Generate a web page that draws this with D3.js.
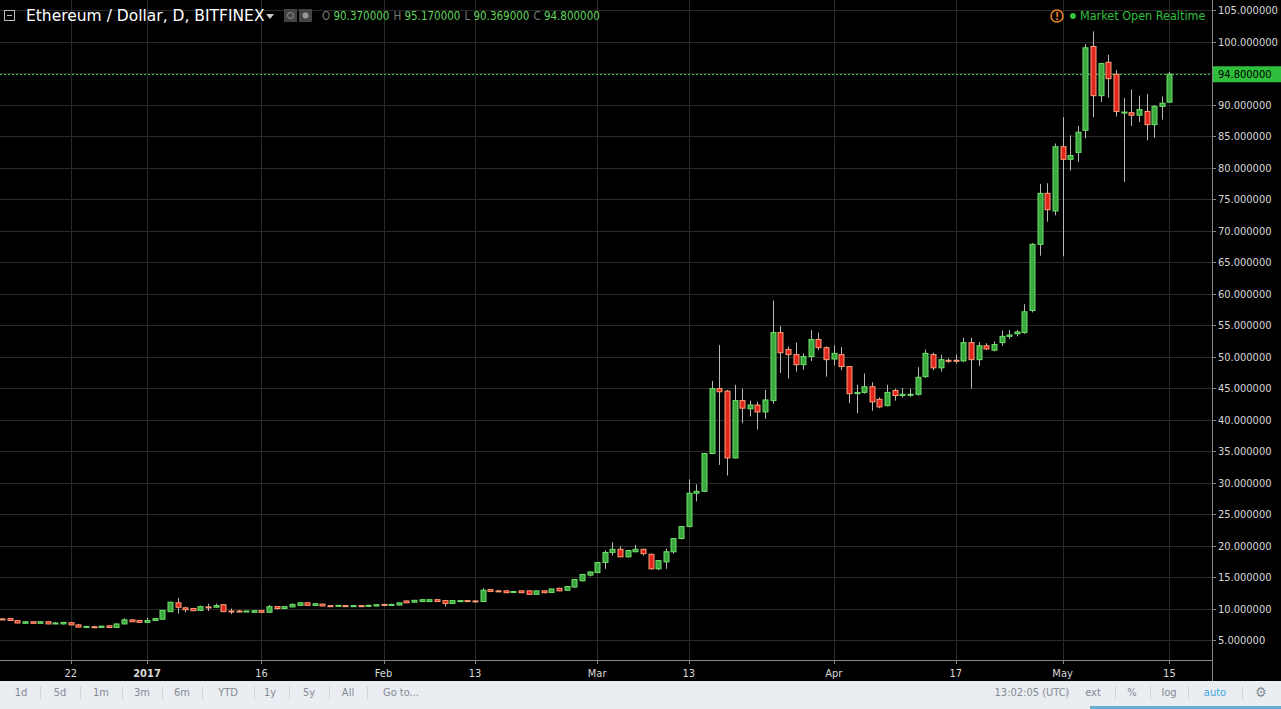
<!DOCTYPE html>
<html>
<head>
<meta charset="utf-8">
<script src="https://cdn.jsdelivr.net/npm/d3@7"></script>
<style>
  body { margin: 0; background: #000; overflow: hidden; }
  svg text { font-family: "DejaVu Sans Condensed", "DejaVu Sans", sans-serif; }
</style>
</head>
<body>
<svg id="chart" width="1281" height="709"></svg>
<script>
// daily candles, Dec 13 2016 .. May 15 2017
const startDate = new Date(2016, 11, 13);
const opens = [8.35,8.4,8.07,7.65,7.9,7.65,7.9,7.6,7.55,7.75,7.4,7.05,7.1,7.0,7.25,7.0,7.55,8.2,8.1,
  7.8,8.1,8.3,9.5,10.9,10.1,10.0,9.7,10.25,10.2,10.6,9.6,9.6,9.55,9.4,9.65,9.4,10.3,10.0,10.25,10.5,10.9,10.5,10.7,10.45,10.4,10.45,10.4,10.45,10.4,10.4,
  10.65,10.6,10.55,11.2,11.0,11.1,11.1,11.4,11.25,10.8,11.2,11.25,11.2,11.1,13.0,12.8,12.8,12.65,12.8,12.8,12.25,12.8,12.55,13.2,12.9,13.4,14.4,15.3,
  15.7,17.3,18.9,19.4,18.2,19.0,19.4,18.6,16.3,17.4,19.0,21.1,23.0,28.3,28.6,34.6,44.9,44.5,33.9,43.0,41.7,42.3,41.2,43.0,53.8,51.1,50.3,48.7,50.0,52.7,51.4,
  49.6,50.3,48.4,44.1,44.3,45.2,43.2,42.2,44.6,43.8,43.9,44.0,46.8,50.3,48.2,49.4,49.4,49.3,52.2,49.5,51.7,51.0,52.2,53.2,53.6,53.8,57.3,67.8,75.9,73.1,
  83.3,81.3,82.4,85.9,99.2,91.4,96.7,94.8,88.7,88.7,88.3,88.9,86.8,89.7,90.37];
const highs = [8.4,8.45,8.15,7.95,7.95,7.95,7.95,7.85,7.85,7.8,7.55,7.25,7.25,7.25,7.3,7.6,8.45,8.3,8.2,
  8.5,8.45,9.75,11.05,11.7,10.3,10.1,10.45,10.75,10.75,10.65,10.0,9.75,9.7,9.7,9.7,10.55,10.4,10.35,10.8,11.0,10.95,10.8,10.75,10.5,10.55,10.5,10.5,10.5,10.6,10.65,
  10.75,10.75,10.95,11.25,11.35,11.45,11.45,11.45,11.3,11.3,11.3,11.3,11.3,13.25,13.1,12.95,12.85,12.8,12.85,12.85,12.85,12.85,13.15,13.3,13.55,14.65,15.5,15.9,
  17.35,19.2,20.5,19.9,19.3,20.1,19.5,18.7,17.7,19.5,21.1,23.1,30.5,29.7,34.7,46.1,51.8,44.7,45.5,44.9,43.0,42.8,44.7,58.9,54.8,51.6,52.2,50.5,54.2,53.8,51.6,
  51.8,51.5,48.5,45.5,47.3,45.9,43.5,45.5,44.9,45.0,44.9,48.3,51.1,50.6,50.3,49.7,50.3,53.0,53.0,52.3,52.1,52.4,54.1,54.2,54.2,58.3,68.0,77.4,77.5,83.8,
  88.0,85.1,86.6,99.6,101.6,96.6,97.9,95.5,91.0,92.4,91.4,91.7,89.9,91.3,95.17];
const lows = [8.3,8.05,7.65,7.6,7.55,7.6,7.5,7.55,7.5,7.35,7.0,7.0,6.95,6.95,6.95,6.95,7.5,7.85,7.75,
  7.75,8.05,8.25,9.45,9.2,9.4,9.6,9.65,9.6,10.15,9.45,9.1,9.4,9.5,9.35,9.35,9.35,9.85,9.95,10.2,10.45,10.45,10.45,10.35,10.35,10.35,10.35,10.35,10.35,10.35,10.35,
  10.5,10.55,10.5,10.85,10.95,11.05,11.05,11.05,10.3,10.75,11.15,11.15,11.1,11.05,12.6,12.65,12.45,12.55,12.45,12.2,12.2,12.45,12.5,12.75,12.85,13.35,14.25,15.1,
  15.65,16.3,18.4,18.2,18.1,18.95,18.4,16.2,16.1,16.3,18.7,21.0,22.9,27.0,28.5,34.5,32.8,31.1,33.8,39.4,40.5,38.4,40.1,42.5,47.4,46.5,47.6,47.9,49.3,51.0,46.8,
  48.6,47.8,42.6,41.0,44.1,41.4,41.8,42.1,43.0,43.5,43.6,43.8,46.6,47.8,47.6,49.0,48.9,49.1,44.9,48.5,51.0,50.8,51.7,52.8,53.2,53.6,57.0,66.0,71.4,72.4,
  65.9,79.5,80.9,84.6,88.0,90.4,91.1,88.1,77.7,86.6,87.2,84.3,84.7,87.6,90.369];
const closes = [8.33,8.1,7.7,7.9,7.65,7.9,7.55,7.7,7.8,7.4,7.05,7.15,7.0,7.2,7.0,7.55,8.2,7.9,7.8,
  8.1,8.4,9.7,11.0,10.2,9.8,9.65,10.3,10.2,10.45,9.5,9.55,9.55,9.6,9.65,9.4,10.3,10.0,10.3,10.65,10.9,10.5,10.75,10.4,10.4,10.5,10.4,10.45,10.4,10.5,10.6,
  10.6,10.65,10.9,10.9,11.3,11.4,11.4,11.1,10.8,11.25,11.25,11.2,11.15,12.9,12.7,12.75,12.5,12.7,12.5,12.25,12.8,12.5,13.1,12.8,13.5,14.6,15.4,15.8,
  17.3,18.9,19.4,18.2,19.2,19.4,18.7,16.3,17.6,19.0,21.1,23.0,28.3,28.6,34.6,44.9,44.4,33.9,43.0,41.8,42.3,41.2,43.1,53.8,50.6,50.3,48.7,50.0,52.7,51.4,49.5,
  50.5,48.4,44.1,44.3,45.2,42.8,42.0,44.3,43.8,44.0,44.0,46.7,50.5,48.2,49.5,49.3,49.3,52.2,49.5,51.7,51.2,51.9,53.2,53.4,53.9,57.1,67.8,75.9,73.3,83.3,
  81.3,81.9,85.6,99.0,91.4,96.5,94.1,88.9,88.8,88.3,89.2,86.8,89.7,90.2,94.8];
const priceTicks = d3.range(5, 106, 5);
const dateTicks = [
  { date: new Date(2016, 11, 22), label: '22' },
  { date: new Date(2017, 0, 1), label: '2017', bold: true },
  { date: new Date(2017, 0, 16), label: '16' },
  { date: new Date(2017, 1, 1), label: 'Feb' },
  { date: new Date(2017, 1, 13), label: '13' },
  { date: new Date(2017, 2, 1), label: 'Mar' },
  { date: new Date(2017, 2, 13), label: '13' },
  { date: new Date(2017, 3, 1), label: 'Apr' },
  { date: new Date(2017, 3, 17), label: '17' },
  { date: new Date(2017, 4, 1), label: 'May' },
  { date: new Date(2017, 4, 15), label: '15' }
];
const lastPrice = 94.8;

const candles = opens.map((o, i) => ({
  date: d3.timeDay.offset(startDate, i),
  open: o, high: highs[i], low: lows[i], close: closes[i]
}));

const W = 1281, H = 709, plotR = 1212, plotB = 660;
const svg = d3.select('#chart');

const x = d3.scaleTime()
  .domain([new Date(2017, 0, 1), new Date(2017, 4, 15)])
  .range([147, 147 + 134 * 7.63]);
const y = d3.scaleLinear().domain([5, 105]).range([640, 10]);

svg.append('rect').attr('width', W).attr('height', H).attr('fill', '#000');

// grid
svg.append('g').selectAll('line').data(priceTicks).join('line')
  .attr('x1', 0).attr('x2', plotR)
  .attr('y1', (d) => Math.round(y(d)) + 0.5).attr('y2', (d) => Math.round(y(d)) + 0.5)
  .attr('stroke', '#2b2b2b');
svg.append('g').selectAll('line').data(dateTicks).join('line')
  .attr('x1', (d) => Math.round(x(d.date)) + 0.5).attr('x2', (d) => Math.round(x(d.date)) + 0.5)
  .attr('y1', 0).attr('y2', plotB)
  .attr('stroke', '#2b2b2b');

// last price line
svg.append('line')
  .attr('x1', 0).attr('x2', plotR)
  .attr('y1', Math.round(y(lastPrice)) + 0.5).attr('y2', Math.round(y(lastPrice)) + 0.5)
  .attr('stroke', '#2fbf3c').attr('stroke-dasharray', '2,2');

// candles
const up = (d) => d.close >= d.open;
const cg = svg.append('g');
cg.selectAll('line').data(candles).join('line')
  .attr('x1', (d) => Math.round(x(d.date)) + 0.5).attr('x2', (d) => Math.round(x(d.date)) + 0.5)
  .attr('y1', (d) => y(d.high)).attr('y2', (d) => y(d.low))
  .attr('stroke', '#b8b8b8');
cg.selectAll('rect').data(candles).join('rect')
  .attr('x', (d) => Math.round(x(d.date)) - 2)
  .attr('width', 5)
  .attr('y', (d) => y(Math.max(d.open, d.close)))
  .attr('height', (d) => Math.max(1, Math.abs(y(d.open) - y(d.close))))
  .attr('fill', (d) => (up(d) ? '#3aa83f' : '#e3261d'))
  .attr('stroke', (d) => (up(d) ? '#6fe06a' : '#ff9f78'))
  .attr('stroke-width', 1);

// right axis
svg.append('line').attr('x1', plotR + 0.5).attr('x2', plotR + 0.5).attr('y1', 0).attr('y2', 681)
  .attr('stroke', '#888');
const ra = svg.append('g');
ra.selectAll('line').data(priceTicks).join('line')
  .attr('x1', plotR).attr('x2', plotR + 4)
  .attr('y1', (d) => Math.round(y(d)) + 0.5).attr('y2', (d) => Math.round(y(d)) + 0.5)
  .attr('stroke', '#888');
ra.selectAll('text').data(priceTicks).join('text')
  .attr('x', 1218).attr('y', (d) => y(d) + 4)
  .attr('fill', '#d8d8d8').attr('font-size', 11)
  .text((d) => d3.format('.6f')(d));
svg.append('rect').attr('x', plotR + 1).attr('y', y(lastPrice) - 8).attr('width', 68).attr('height', 16)
  .attr('fill', '#2fbf3c');
svg.append('text').attr('x', 1218).attr('y', y(lastPrice) + 4)
  .attr('fill', '#000').attr('font-size', 11).text(d3.format('.6f')(lastPrice));

// bottom axis
svg.append('line').attr('x1', 0).attr('x2', plotR).attr('y1', plotB + 0.5).attr('y2', plotB + 0.5)
  .attr('stroke', '#888');
const ba = svg.append('g');
ba.selectAll('line').data(dateTicks).join('line')
  .attr('x1', (d) => Math.round(x(d.date)) + 0.5).attr('x2', (d) => Math.round(x(d.date)) + 0.5)
  .attr('y1', plotB).attr('y2', plotB + 4).attr('stroke', '#888');
ba.selectAll('text').data(dateTicks).join('text')
  .attr('x', (d) => x(d.date)).attr('y', 677)
  .attr('text-anchor', 'middle').attr('font-size', 11)
  .attr('font-weight', (d) => (d.bold ? 'bold' : 'normal'))
  .attr('fill', '#d8d8d8').text((d) => d.label);

// header legend
svg.append('rect').attr('x', 4.5).attr('y', 10.5).attr('width', 10).attr('height', 10)
  .attr('fill', 'none').attr('stroke', '#bbb');
svg.append('line').attr('x1', 7).attr('x2', 12).attr('y1', 15.5).attr('y2', 15.5).attr('stroke', '#bbb');
svg.append('text').attr('x', 26).attr('y', 21).attr('fill', '#fff').attr('font-size', 15.5)
  .style('font-family', '"DejaVu Sans", sans-serif')
  .text('Ethereum / Dollar, D, BITFINEX');
svg.append('path').attr('d', 'M266,14 L274,14 L270,19 Z').attr('fill', '#ccc');
svg.append('rect').attr('x', 284).attr('y', 9).attr('width', 13).attr('height', 13).attr('fill', '#444');
svg.append('rect').attr('x', 299).attr('y', 9).attr('width', 13).attr('height', 13).attr('fill', '#444');
svg.append('circle').attr('cx', 290.5).attr('cy', 15.5).attr('r', 3).attr('fill', 'none').attr('stroke', '#999');
svg.append('circle').attr('cx', 305.5).attr('cy', 15.5).attr('r', 3).attr('fill', '#999');
const ohlc = [['O', '90.370000'], ['H', '95.170000'], ['L', '90.369000'], ['C', '94.800000']];
const lt = svg.append('text').attr('x', 322).attr('y', 20).attr('font-size', 11.5);
ohlc.forEach(([k, v], i) => {
  lt.append('tspan').attr('fill', '#777').attr('dx', i ? 4 : 0).text(k + ' ');
  lt.append('tspan').attr('fill', '#5fd35b').text(v);
});

svg.append('circle').attr('cx', 1057).attr('cy', 16).attr('r', 6).attr('fill', 'none').attr('stroke', '#f0851f').attr('stroke-width', 1.5);
svg.append('text').attr('x', 1057).attr('y', 20).attr('text-anchor', 'middle').attr('fill', '#f0851f').attr('font-size', 10).attr('font-weight', 'bold').text('!');
svg.append('circle').attr('cx', 1073).attr('cy', 16).attr('r', 3).attr('fill', '#2fbf3c');
svg.append('text').attr('x', 1080).attr('y', 20).attr('fill', '#2fbf3c').attr('font-size', 12.5).text('Market Open Realtime');

// toolbar
svg.append('rect').attr('x', 0).attr('y', 681).attr('width', W).attr('height', 28).attr('fill', '#eaedf1');
svg.append('rect').attr('x', 1090).attr('y', 706).attr('width', 191).attr('height', 3).attr('fill', '#6aaed6');
const leftBtns = [['1d', 21], ['5d', 60], ['1m', 101], ['3m', 142], ['6m', 182], ['YTD', 228], ['1y', 270], ['5y', 309], ['All', 348], ['Go to...', 401]];
const rightBtns = [['13:02:05 (UTC)', 1032], ['ext', 1093], ['%', 1132], ['log', 1169], ['auto', 1215]];
const tb = svg.append('g').attr('font-size', 11);
tb.selectAll('text.l').data(leftBtns).join('text').attr('class', 'l')
  .attr('x', (d) => d[1]).attr('y', 696).attr('text-anchor', 'middle').attr('fill', '#848b93').text((d) => d[0]);
tb.selectAll('text.r').data(rightBtns).join('text').attr('class', 'r')
  .attr('x', (d) => d[1]).attr('y', 696).attr('text-anchor', 'middle')
  .attr('fill', (d) => (d[0] === 'auto' ? '#3ba6e2' : '#848b93')).text((d) => d[0]);
const seps = [40, 80, 122, 162, 202, 254, 289, 329, 367, 1066, 1115, 1150, 1188, 1242];
tb.selectAll('line').data(seps).join('line')
  .attr('x1', (d) => d + 0.5).attr('x2', (d) => d + 0.5).attr('y1', 686).attr('y2', 700).attr('stroke', '#d2d6db');
tb.append('text').attr('x', 1261).attr('y', 697).attr('text-anchor', 'middle').attr('fill', '#848b93').attr('font-size', 14).text('⚙');
</script>
</body>
</html>
